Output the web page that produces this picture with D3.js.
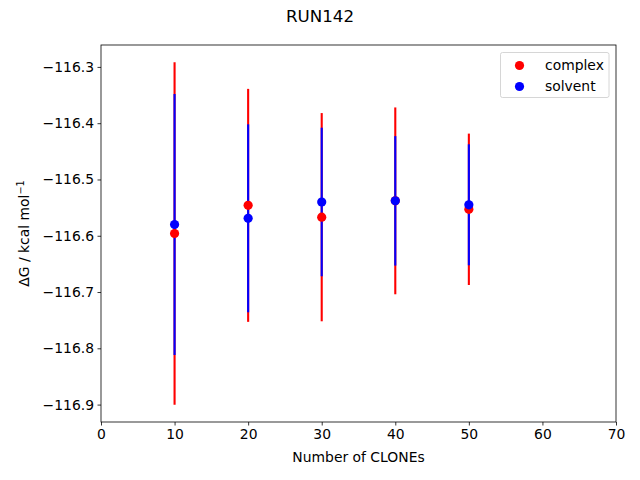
<!DOCTYPE html>
<html><head><meta charset="utf-8">
<script src="https://cdn.jsdelivr.net/npm/d3@7"></script>
<style>body{margin:0;background:#fff}svg{display:block;font-family:"DejaVu Sans",sans-serif}</style>
</head><body>
<script>
const clones = [10, 20, 30, 40, 50];
const complexMean = [-116.596, -116.546, -116.567, -116.538, -116.553];
const complexErr  = [0.3045, 0.207, 0.185, 0.166, 0.1345];
const solventMean = [-116.580, -116.569, -116.540, -116.538, -116.545];
const solventErr  = [0.232, 0.167, 0.132, 0.115, 0.1075];
const xTicks = [0, 10, 20, 30, 40, 50, 60, 70];
const yTicks = [-116.3, -116.4, -116.5, -116.6, -116.7, -116.8, -116.9];
const seriesNames = ["complex", "solvent"];
const seriesColors = ["#ff0000", "#0000ff"];

const W = 640, H = 480;
const m = {left: 101, right: 616, top: 45, bottom: 422};
const svg = d3.select("body").append("svg").attr("width", W).attr("height", H);

const x = d3.scaleLinear().domain([0, 70]).range([m.left, m.right]);
const yLo = -116.9005, yHi = -116.2915, pad = (yHi - yLo) * 0.05;
const y = d3.scaleLinear().domain([yLo - pad, yHi + pad]).range([m.bottom, m.top]);

const fmt = v => d3.format(".1f")(v).replace("-", "\u2212");

const gx = svg.append("g").attr("transform", `translate(0,${m.bottom})`)
  .call(d3.axisBottom(x).tickValues(xTicks).tickSize(3.5).tickPadding(3.5).tickFormat(d3.format("d")));
const gy = svg.append("g").attr("transform", `translate(${m.left},0)`)
  .call(d3.axisLeft(y).tickValues(yTicks).tickSize(3.5).tickPadding(3.5).tickFormat(fmt));
[gx, gy].forEach(g => {
  g.select(".domain").remove();
  g.selectAll("text").attr("font-size", 13.9).attr("fill", "#000").attr("font-family", "DejaVu Sans");
  g.selectAll("line").attr("stroke", "#000").attr("stroke-width", 0.8);
});

const data = [
  {name: seriesNames[0], color: seriesColors[0], mean: complexMean, err: complexErr},
  {name: seriesNames[1], color: seriesColors[1], mean: solventMean, err: solventErr}
];
const plot = svg.append("g");
data.forEach(s => {
  plot.selectAll(null).data(clones).enter().append("line")
    .attr("x1", (d) => x(d)).attr("x2", (d) => x(d))
    .attr("y1", (d, i) => y(s.mean[i] - s.err[i]))
    .attr("y2", (d, i) => y(s.mean[i] + s.err[i]))
    .attr("stroke", s.color).attr("stroke-width", 2.1);
});
data.forEach(s => {
  plot.selectAll(null).data(clones).enter().append("circle")
    .attr("cx", (d) => x(d)).attr("cy", (d, i) => y(s.mean[i]))
    .attr("r", 4.6).attr("fill", s.color);
});

svg.append("rect").attr("x", m.left).attr("y", m.top)
  .attr("width", m.right - m.left).attr("height", m.bottom - m.top)
  .attr("fill", "none").attr("stroke", "#000").attr("stroke-width", 0.8);

// legend
const lg = svg.append("g");
lg.append("rect").attr("x", 500.5).attr("y", 52.5).attr("width", 108.5).attr("height", 45)
  .attr("rx", 2).attr("fill", "#fff").attr("fill-opacity", 0.8)
  .attr("stroke", "#cccccc").attr("stroke-width", 0.8);
data.forEach((s, i) => {
  lg.append("circle").attr("cx", 519.5).attr("cy", 65.5 + i * 21).attr("r", 4.6).attr("fill", s.color);
  lg.append("text").attr("x", 545).attr("y", 65.5 + i * 21).attr("dy", "0.35em")
    .attr("font-size", 13.9).text(s.name);
});

svg.append("text").attr("x", 320).attr("y", 22).attr("text-anchor", "middle")
  .attr("font-size", 16.7).text("RUN142");
svg.append("text").attr("x", (m.left + m.right) / 2).attr("y", 462).attr("text-anchor", "middle")
  .attr("font-size", 13.9).text("Number of CLONEs");
const yl = svg.append("text").attr("transform", `translate(29,${(m.top + m.bottom) / 2}) rotate(-90)`)
  .attr("text-anchor", "middle").attr("font-size", 13.9);
yl.append("tspan").text("\u0394G / kcal mol");
yl.append("tspan").attr("font-size", 9.7).attr("dy", -5).text("\u22121");
</script>
</body></html>
